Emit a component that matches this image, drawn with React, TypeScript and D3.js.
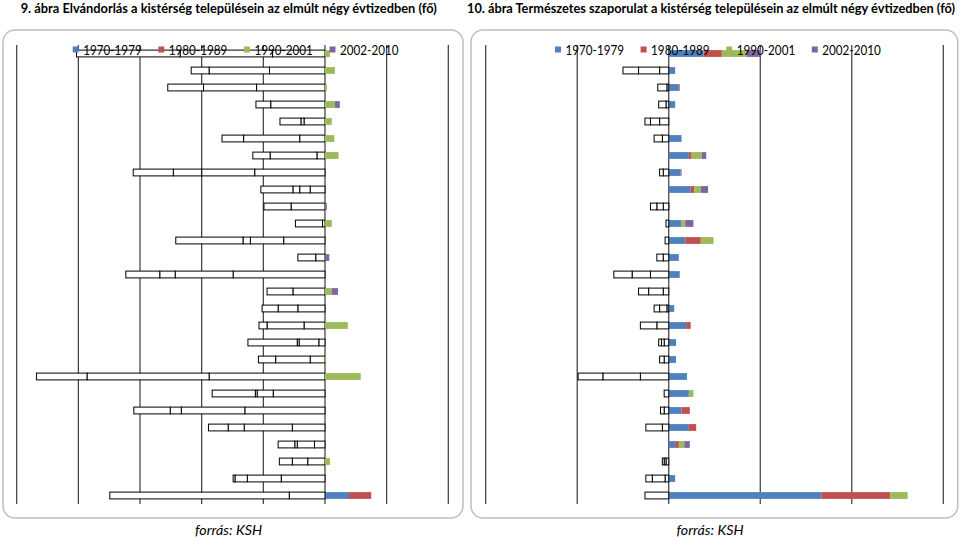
import React from "react";
import * as d3 from "d3";

// ---- data ----
const categories = [
  "1", "2", "3", "4", "5", "6", "7", "8", "9", "10", "11", "12", "13", "14",
  "15", "16", "17", "18", "19", "20", "21", "22", "23", "24", "25", "26", "27",
];
const seriesNames = ["1970-1979", "1980-1989", "1990-2001", "2002-2010"];
const seriesColors = ["#4F81BD", "#C0504D", "#9BBB59", "#8064A2"];

// 9. ábra – Elvándorlás (fő)
const migr1970 = [-85, -90, -111, -88, -34, -41, -13, -114, -24, -55, -4, -67, -15, -149, -52, -44, -34, -10, -24, -188, -84, -130, -53, -17, -28, -71, 39];
const migr1980 = [-150, -98, -86, -24, -5, -91, -76, -86, -17, -44, -44, -54, -29, -94, -42, -32, -60, -32, -56, -198, -26, -103, -78, -28, -25, -55, 36];
const migr1990 = [8, 16, 3, 16, 11, 15, 22, -46, -11, 0, 11, -12, 0, -25, 11, -26, 37, -3, 2, 58, -3, -18, -26, -4, 8, -20, -58];
const migr2002 = [-168, -29, -58, 8, -34, -35, -28, -65, -52, 3, 0, -109, 7, -55, 10, 0, -13, -80, -28, -82, -70, -59, -32, -27, -21, -3, -291];

// 10. ábra – Természetes szaporulat (fő)
const nat1970 = [38, 7, 11, 7, -10, 14, 22, 13, 24, 1, 14, 18, 11, 12, -6, 6, 19, 8, 8, 20, 22, 14, 22, 7, -3, 7, 167];
const nat1980 = [20, -10, 1, -3, -10, -7, 3, 1, 4, -6, -3, 17, -6, -20, -16, -2, 5, -5, -5, -31, -5, 9, 8, 4, -2, -4, 75];
const nat1990 = [27, -23, -2, -8, -6, -9, 11, -6, 7, -7, 4, 14, -7, -20, -11, -8, -13, -3, -5, -41, 5, -5, -7, 6, -2, -14, 19];
const nat2002 = [16, -17, -10, 0, 0, 0, 5, -4, 8, -7, 9, -4, 0, -20, 0, -6, -18, -3, 0, -27, 0, -4, -18, 6, 0, -7, -26];

const FONT = "Lato, 'Open Sans', sans-serif";

type PanelProps = {
  series: number[][];
  domain: [number, number];
  range: [number, number];
  box: { x: number; y: number; w: number; h: number };
  legendX: number;
  footerX: number;
};

function Panel({ series, domain, range, box, legendX, footerX }: PanelProps) {
  const x = d3.scaleLinear().domain(domain).range(range);
  const y = d3
    .scaleBand<string>()
    .domain(categories)
    .range([45, 504])
    .paddingInner(0.6)
    .paddingOuter(0.3);

  const table = categories.map((c, i) => {
    const row: Record<string, any> = { cat: c };
    seriesNames.forEach((s, k) => (row[s] = series[k][i]));
    return row;
  });
  const stacked = d3
    .stack<Record<string, any>>()
    .keys(seriesNames)
    .offset(d3.stackOffsetDiverging)(table);

  const ticks = d3.range(domain[0], domain[1] + 1, 100);

  return (
    <g>
      <rect
        x={box.x}
        y={box.y}
        width={box.w}
        height={box.h}
        rx={12}
        fill="#fff"
        stroke="#BFBFBF"
        strokeWidth={1.5}
      />
      {ticks.map((t) => (
        <line
          key={t}
          x1={x(t)}
          x2={x(t)}
          y1={45}
          y2={504}
          stroke="#3A3A3A"
          strokeWidth={1.2}
        />
      ))}
      {stacked.map((layer, k) =>
        layer.map((d, i) => {
          const v = series[k][i];
          if (v === 0) return null;
          const x0 = x(Math.min(d[0], d[1]));
          const x1 = x(Math.max(d[0], d[1]));
          const neg = v < 0;
          return (
            <rect
              key={`${k}-${i}`}
              x={x0}
              y={y(categories[i])!}
              width={x1 - x0}
              height={y.bandwidth()}
              fill={neg ? "#fff" : seriesColors[k]}
              stroke={neg ? "#000" : "none"}
              strokeWidth={neg ? 1 : 0}
            />
          );
        })
      )}
      {seriesNames.map((s, k) => (
        <g key={s}>
          <rect
            x={legendX + k * 85.6}
            y={46.5}
            width={6}
            height={6}
            fill={seriesColors[k]}
          />
          <text
            x={legendX + k * 85.6 + 10.5}
            y={54.5}
            fontFamily={FONT}
            fontSize={14}
            textLength={58.5}
            lengthAdjust="spacingAndGlyphs"
            fill="#000"
          >
            {s}
          </text>
        </g>
      ))}
      <text
        x={footerX}
        y={535}
        textAnchor="middle"
        fontFamily={FONT}
        fontStyle="italic"
        fontSize={14}
        textLength={67}
        lengthAdjust="spacingAndGlyphs"
        fill="#000"
      >
        forrás: KSH
      </text>
    </g>
  );
}

export default function App() {
  return (
    <svg
      width={960}
      height={540}
      style={{ position: "absolute", left: 0, top: 0, background: "#fff" }}
    >
      <rect x={0} y={0} width={960} height={540} fill="#fff" />
      <text
        x={20.7}
        y={13}
        fontFamily={FONT}
        fontWeight="bold"
        fontSize={12.8}
        textLength={416}
        lengthAdjust="spacingAndGlyphs"
      >
        9. ábra  Elvándorlás a kistérség településein az elmúlt négy évtizedben (fő)
      </text>
      <text
        x={467}
        y={13}
        fontFamily={FONT}
        fontWeight="bold"
        fontSize={12.8}
        textLength={488}
        lengthAdjust="spacingAndGlyphs"
      >
        10. ábra  Természetes szaporulat a kistérség településein az elmúlt négy évtizedben (fő)
      </text>
      <Panel
        series={[migr1970, migr1980, migr1990, migr2002]}
        domain={[-500, 200]}
        range={[16.7, 448.3]}
        box={{ x: 3, y: 30, w: 460, h: 488 }}
        legendX={72.7}
        footerX={228.5}
      />
      <Panel
        series={[nat1970, nat1980, nat1990, nat2002]}
        domain={[-200, 300]}
        range={[485.7, 943.3]}
        box={{ x: 471, y: 30, w: 486.7, h: 488 }}
        legendX={555}
        footerX={710}
      />
    </svg>
  );
}
